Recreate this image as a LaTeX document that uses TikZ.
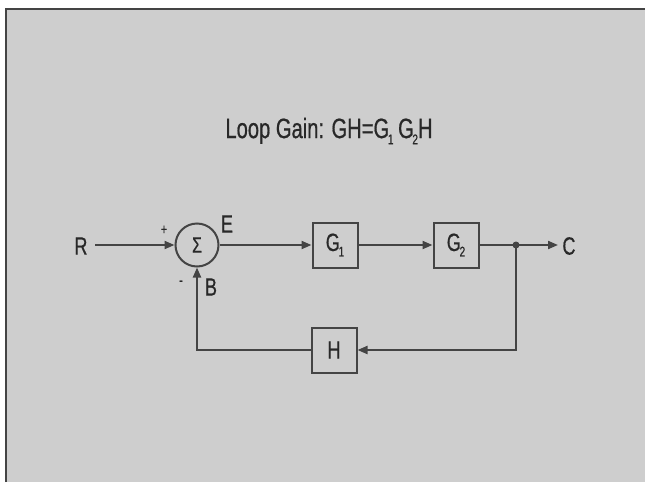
\documentclass[tikz,border=0pt]{standalone}
\usepackage{fontspec}
\setmainfont[FakeStretch=0.72,FakeBold=0.6]{Liberation Sans}
\usetikzlibrary{arrows.meta,calc}
\definecolor{bg}{RGB}{206,206,206}
\definecolor{ink}{RGB}{68,68,68}
\definecolor{txt}{RGB}{40,40,40}
\tikzset{
  blk/.style={draw=ink, line width=2pt, minimum width=45pt, minimum height=45pt, inner sep=0pt, font=\fontsize{25}{25}\selectfont, text=txt},
  lbl/.style={font=\fontsize{25}{25}\selectfont, text=txt, inner sep=0pt},
  sgn/.style={font=\fontsize{15}{15}\selectfont, text=txt, inner sep=0pt},
  wire/.style={draw=ink, line width=2pt},
  arr/.style={wire, -{Triangle[length=10pt,width=8pt]}}
}
\newcommand{\sub}[1]{\kern-0.05em\raisebox{-0.22em}{\fontsize{14}{14}\selectfont #1}}
\begin{document}
\begin{tikzpicture}[x=1pt,y=-1pt]
\useasboundingbox (0,0) rectangle (645,482);
\fill[white] (0,0) rectangle (645,482);
\fill[bg] (6,9) rectangle (645,482);
\draw[ink, line width=1.5pt] (6,482) -- (6,9) -- (645,9);
% title
\node[lbl, font=\fontsize{28}{28}\selectfont] (title) at (329,131) {Loop Gain: GH=G\sub{1}\,G\sub{2}H};
% nodes
\node[lbl] (R) at (81,246) {R};
\node[draw=ink, line width=2pt, circle, minimum size=43pt, inner sep=0pt, text=txt, font=\fontsize{22}{22}\selectfont] (S) at (197,245) {Σ};
\node[blk] (G1) at (335,245) {G\sub{1}};
\node[blk] (G2) at (456,245) {G\sub{2}};
\node[blk] (H) at (334,350) {H};
\node[lbl] (C) at (569,246) {C};
\node[lbl] (E) at (227,224) {E};
\node[lbl] (B) at (211,287) {B};
\node[sgn] (plus) at (164,230) {+};
\node[sgn] (minus) at (181,283) {-};
\coordinate (J) at (516,245);
\coordinate (Jd) at (516,350);
\coordinate (L) at (197,350);
\coordinate (Rs) at (95,245);
\coordinate (Ce) at (558,245);
% connectors
\draw[arr] (Rs) -- (S.west);
\draw[arr] (S.east) -- (G1.west);
\draw[arr] (G1.east) -- (G2.west);
\draw[wire] (G2.east) -- (J);
\draw[arr] (J) -- (Ce);
\fill[ink] (J) circle (3.5pt);
\draw[arr] (J) -- (Jd) -- (H.east);
\draw[arr] (H.west) -- (L) -- (S.south);
\end{tikzpicture}
\end{document}
